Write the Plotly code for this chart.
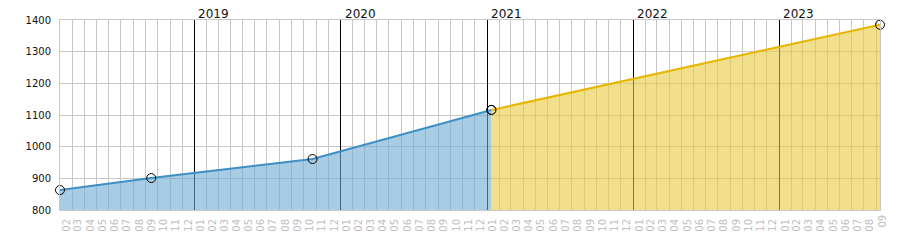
import plotly.graph_objects as go

# Data
actual_dates = ["2018-01-30", "2018-09-15", "2019-10-23", "2021-01-12"]
actual_values = [863, 901, 961, 1116]
forecast_dates = ["2021-01-12", "2023-09-10"]
forecast_values = [1116, 1385]
years = ["2019", "2020", "2021", "2022", "2023"]
x_range = ["2018-01-30", "2023-09-10"]
y_range = [800, 1400]
edge_month_label = "09"

FONT = "DejaVu Sans"
GRID = "#c8c8c8"

fig = go.Figure()
fig.add_trace(go.Scatter(
    x=actual_dates, y=actual_values, mode="lines+markers",
    line=dict(color="#3d8fc6", width=2),
    fill="tozeroy", fillcolor="rgba(110,170,208,0.6)",
    marker=dict(symbol="circle-open", size=9, color="black", line=dict(width=1)),
    cliponaxis=False, showlegend=False, hoverinfo="skip"))
fig.add_trace(go.Scatter(
    x=forecast_dates, y=forecast_values, mode="lines+markers",
    line=dict(color="#e6b600", width=2),
    fill="tozeroy", fillcolor="rgba(233,202,63,0.6)",
    marker=dict(symbol="circle-open", size=9, color="black", line=dict(width=1)),
    cliponaxis=False, showlegend=False, hoverinfo="skip"))
# invisible trace to carry the year grid axis
fig.add_trace(go.Scatter(x=x_range, y=y_range, xaxis="x2", mode="none",
                         showlegend=False, hoverinfo="skip"))

for y in years:
    fig.add_annotation(x=f"{y}-01-01", y=1, yref="paper", xref="x", text=y,
                       showarrow=False, xanchor="left", yanchor="bottom",
                       xshift=2, yshift=-3,
                       font=dict(family=FONT, size=12, color="#111"))

fig.add_annotation(x=1, y=0, yref="paper", xref="paper",
                   text=edge_month_label, showarrow=False, textangle=-90,
                   xanchor="center", yanchor="top", xshift=2, yshift=-3,
                   font=dict(family=FONT, size=10, color="#c0c0c0"))

fig.update_layout(
    xaxis=dict(
        type="date", range=x_range, dtick="M1", tick0="2018-01-01",
        tickformat="%m", ticklabelmode="period", tickangle=-90,
        showgrid=True, gridcolor=GRID, gridwidth=1,
        tickfont=dict(family=FONT, size=10, color="#c0c0c0"),
        ticks="", showline=True, linecolor=GRID, mirror=True, zeroline=False,
        ticklabelstandoff=4),
    xaxis2=dict(
        type="date", range=x_range, overlaying="x", anchor="y",
        dtick="M12", tick0="2019-01-01", showticklabels=False, ticks="",
        showgrid=True, gridcolor="black", gridwidth=1, showline=False,
        zeroline=False),
    yaxis=dict(
        range=y_range, dtick=100, showgrid=True, gridcolor=GRID, gridwidth=1,
        tickfont=dict(family=FONT, size=10, color="#111"), ticks="",
        showline=True, linecolor=GRID, mirror=True, zeroline=False,
        ticklabelstandoff=6),
    width=900, height=250, margin=dict(l=60, r=20, t=20, b=40),
    plot_bgcolor="white", paper_bgcolor="white",
    font=dict(family=FONT))

fig.write_html("out.html")
